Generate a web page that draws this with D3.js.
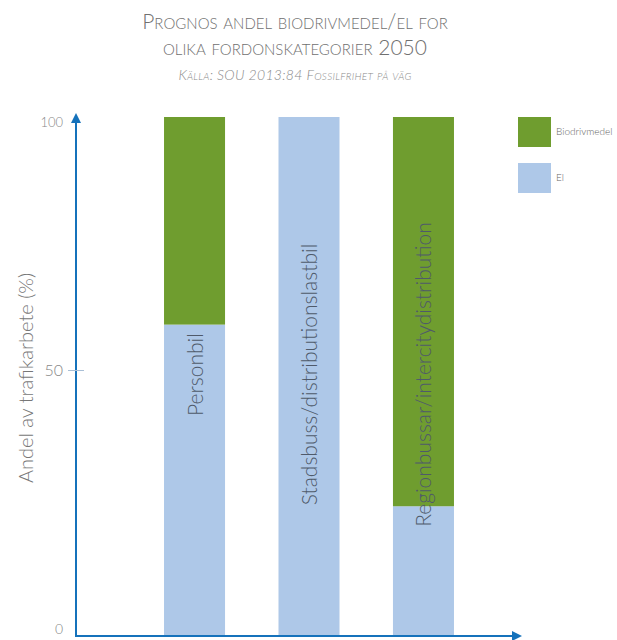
<!DOCTYPE html>
<html lang="sv">
<head>
  <meta charset="utf-8">
  <title>Prognos andel biodrivmedel/el</title>
  <script src="https://d3js.org/d3.v7.min.js"></script>
  <style>
    body { margin: 0; background: #fff; }
    svg text { font-family: Lato, "Open Sans", sans-serif; font-weight: 300; }
  </style>
</head>
<body>
  <svg id="chart" width="617" height="640"></svg>
  <script>
    // data
    const categories = ["Personbil", "Stadsbuss/distributionslastbil", "Regionbussar/intercitydistribution"];
    const elValues = [60, 100, 25];
    const bioValues = [40, 0, 75];
    const seriesNames = ["Biodrivmedel", "El"];
    const yTicks = [0, 50, 100];

    const green = "#6f9d2f";
    const blue = "#aec8e8";
    const axisBlue = "#1572bb";

    let svg = d3.select("#chart");

    let x = d3.scaleBand()
        .domain(categories)
        .range([76, 542])
        .paddingInner(0.467)
        .paddingOuter(0.769);

    let y = d3.scaleLinear()
        .domain([0, 100])
        .range([636, 117]);

    // title
    svg.append("text")
        .attr("x", 295).attr("y", 29)
        .attr("text-anchor", "middle")
        .style("font-size", "21px")
        .style("font-variant", "small-caps")
        .style("fill", "#707070")
        .text("Prognos andel biodrivmedel/el for");
    svg.append("text")
        .attr("x", 295).attr("y", 55)
        .attr("text-anchor", "middle")
        .style("font-size", "21px")
        .style("font-variant", "small-caps")
        .style("fill", "#707070")
        .text("olika fordonskategorier 2050");
    svg.append("text")
        .attr("x", 295).attr("y", 80)
        .attr("text-anchor", "middle")
        .style("font-size", "14px")
        .style("font-style", "italic")
        .style("font-variant", "small-caps")
        .style("letter-spacing", "0.3px")
        .style("fill", "#8a8a8a")
        .text("Källa: SOU 2013:84 Fossilfrihet på väg");

    let stacked = categories.map((c, i) => ({ cat: c, el: elValues[i], bio: bioValues[i] }));

    // El (bottom)
    svg.append("g").selectAll("rect")
        .data(stacked)
        .join("rect")
        .attr("x", d => x(d.cat))
        .attr("width", x.bandwidth())
        .attr("y", d => y(d.el))
        .attr("height", d => y(0) - y(d.el))
        .style("fill", blue);

    // Biodrivmedel (top)
    svg.append("g").selectAll("rect")
        .data(stacked)
        .join("rect")
        .attr("x", d => x(d.cat))
        .attr("width", x.bandwidth())
        .attr("y", d => y(d.el + d.bio))
        .attr("height", d => y(d.el) - y(d.el + d.bio))
        .style("fill", green);

    // rotated labels in the bars
    svg.append("g").selectAll("text")
        .data(categories)
        .join("text")
        .attr("transform", d => `translate(${x(d) + x.bandwidth() / 2 + 8},${y(50) - 2}) rotate(-90)`)
        .attr("text-anchor", "middle")
        .style("font-size", "21px")
        .style("fill", "#4f5a6a")
        .text(d => d);

    // axes with arrows
    let defs = svg.append("defs");
    defs.append("marker")
        .attr("id", "arrow")
        .attr("viewBox", "0 0 10 10")
        .attr("refX", 2).attr("refY", 5)
        .attr("markerWidth", 5).attr("markerHeight", 5)
        .attr("orient", "auto")
        .append("path")
        .attr("d", "M0,0L10,5L0,10Z")
        .style("fill", axisBlue);

    svg.append("line")
        .attr("x1", 76).attr("x2", 76)
        .attr("y1", y(0)).attr("y2", 121)
        .attr("marker-end", "url(#arrow)")
        .style("stroke", axisBlue)
        .style("stroke-width", 2);

    svg.append("line")
        .attr("x1", 75).attr("x2", 514)
        .attr("y1", y(0)).attr("y2", y(0))
        .attr("marker-end", "url(#arrow)")
        .style("stroke", axisBlue)
        .style("stroke-width", 2);

    // y ticks
    let tickG = svg.append("g").selectAll("g")
        .data(yTicks)
        .join("g")
        .attr("transform", d => `translate(0,${d === 0 ? y(d) - 7 : (d === 100 ? y(d) + 5 : y(d) - 6)})`);
    tickG.filter(d => d === 50).append("line")
        .attr("x1", 68).attr("x2", 84)
        .attr("y1", 0).attr("y2", 0)
        .style("stroke", "#a9bfd6")
        .style("stroke-width", 1);
    tickG.append("text")
        .attr("x", 63)
        .attr("dy", "0.35em")
        .attr("text-anchor", "end")
        .style("font-size", d => d === 100 ? "13px" : (d === 0 ? "14px" : "16px"))
        .style("fill", "#888")
        .text(d => d);

    // y axis title
    svg.append("text")
        .attr("transform", "translate(33,378) rotate(-90)")
        .attr("text-anchor", "middle")
        .style("font-size", "20px")
        .style("fill", "#777")
        .text("Andel av trafikarbete (%)");

    // legend
    let legend = svg.append("g").selectAll("g")
        .data(seriesNames)
        .join("g")
        .attr("transform", (d, i) => `translate(518,${117 + i * 46})`);
    legend.append("rect")
        .attr("width", 33).attr("height", 30)
        .style("fill", (d, i) => i === 0 ? green : blue);
    legend.append("text")
        .attr("x", 38).attr("y", 18)
        .style("font-size", "10px")
        .style("fill", "#666")
        .text(d => d);
  </script>
</body>
</html>
